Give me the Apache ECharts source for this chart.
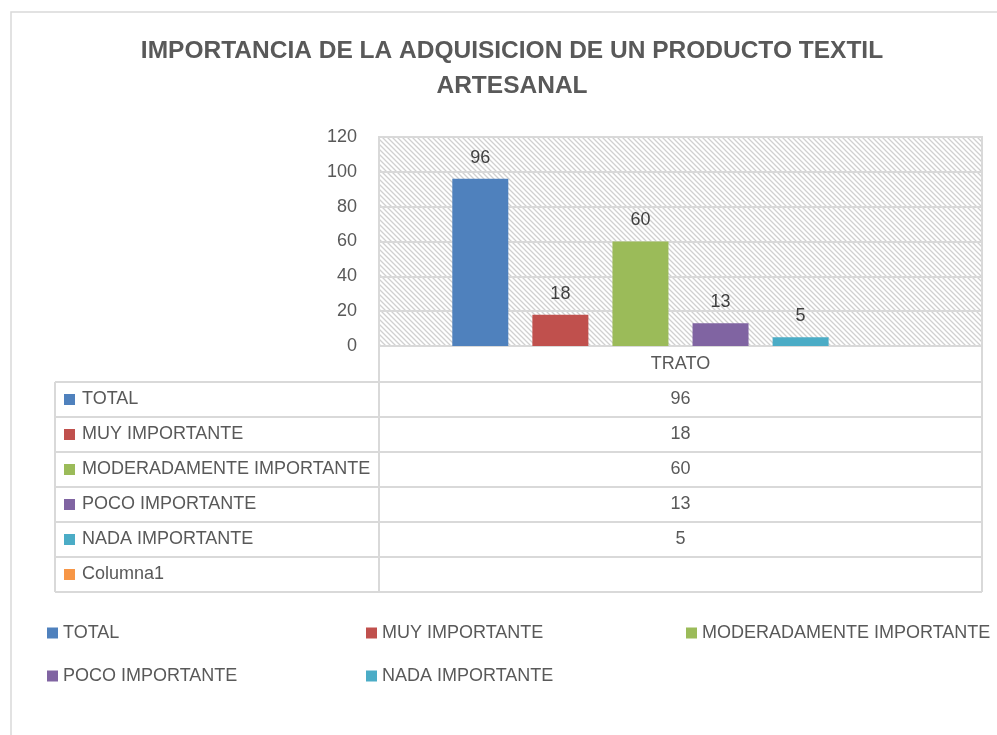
<!DOCTYPE html>
<html>
<head>
<meta charset="utf-8">
<script src="https://cdn.jsdelivr.net/npm/echarts@6/dist/echarts.min.js"></script>
<style>
  html, body { margin: 0; padding: 0; background: #fff; }
  #chart { width: 997px; height: 735px; }
</style>
</head>
<body>
<div id="chart"></div>
<script>
// datos del grafico
const categories = ['TRATO'];
const seriesNames = ['TOTAL', 'MUY IMPORTANTE', 'MODERADAMENTE IMPORTANTE', 'POCO IMPORTANTE', 'NADA IMPORTANTE', 'Columna1'];
const seriesValues = [96, 18, 60, 13, 5, null];
const seriesColors = ['#4F81BD', '#C0504D', '#9BBB59', '#8064A2', '#4BACC6', '#F79646'];
const yMin = 0, yMax = 120, yStep = 20;

// layout
const gridL = 379, gridR = 982, gridT = 137, gridB = 346;
const rowH = 35, tableL = 55;
const lineCol = '#d9d9d9';
const textCol = '#595959';
const font = 'Liberation Sans';

// fondo rayado del area de trazado
function hatch() {
  const s = 5;
  const c = document.createElement('canvas');
  c.width = s; c.height = s;
  const ctx = c.getContext('2d');
  ctx.strokeStyle = '#d0d0d0';
  ctx.lineWidth = 1.3;
  ctx.beginPath();
  ctx.moveTo(-1, -1); ctx.lineTo(s + 1, s + 1);
  ctx.moveTo(-1, s - 1); ctx.lineTo(1, s + 1);
  ctx.moveTo(s - 1, -1); ctx.lineTo(s + 1, 1);
  ctx.stroke();
  return c;
}

const series = seriesNames.map((name, i) => ({
  name: name,
  type: 'bar',
  barWidth: 56,
  barGap: '43%',
  itemStyle: { color: seriesColors[i] },
  label: { show: true, position: 'top', distance: 12, fontSize: 18, color: '#404040', fontFamily: font },
  data: [seriesValues[i]]
}));

// tabla de datos
const graphic = [];
const tableTop = gridB + rowH + 1;
const tableBottom = tableTop + rowH * seriesNames.length;
const midX = (gridL + gridR) / 2;
// borde exterior del grafico
graphic.push({ type: 'rect', shape: { x: 11, y: 12, width: 1000, height: 740 }, style: { fill: null, stroke: lineCol, lineWidth: 1.5 }, silent: true });
// verticales
[[gridL, gridB, tableBottom], [gridR, gridB, tableBottom], [tableL, tableTop, tableBottom]].forEach(v => {
  graphic.push({ type: 'line', shape: { x1: v[0], y1: v[1], x2: v[0], y2: v[2] }, style: { stroke: lineCol, lineWidth: 2 }, silent: true });
});
for (let r = 0; r <= seriesNames.length; r++) {
  const y = tableTop + r * rowH;
  graphic.push({ type: 'line', shape: { x1: tableL, y1: y, x2: gridR, y2: y }, style: { stroke: lineCol, lineWidth: 2 }, silent: true });
}
seriesNames.forEach((name, i) => {
  const cy = tableTop + i * rowH + rowH / 2;
  graphic.push({ type: 'rect', shape: { x: 64, y: cy - 5.5, width: 11, height: 11 }, style: { fill: seriesColors[i] }, silent: true });
  graphic.push({ type: 'text', x: 82, y: cy, style: { text: name, fontSize: 18, fontFamily: font, fill: textCol, verticalAlign: 'middle' }, silent: true });
  if (seriesValues[i] != null) {
    graphic.push({ type: 'text', x: midX, y: cy, style: { text: String(seriesValues[i]), fontSize: 18, fontFamily: font, fill: textCol, align: 'center', verticalAlign: 'middle' }, silent: true });
  }
});

const legendBase = {
  orient: 'vertical', top: 619, itemWidth: 11, itemHeight: 11, itemGap: 25, itemTextGap: 5,
  icon: 'rect', selectedMode: false,
  textStyle: { fontSize: 18, color: textCol, fontFamily: font }
};

const chart = echarts.init(document.getElementById('chart'));
chart.setOption({
  backgroundColor: '#fff',
  animation: false,
  textStyle: { fontFamily: font },
  title: {
    text: 'IMPORTANCIA DE LA ADQUISICION DE UN PRODUCTO TEXTIL\nARTESANAL',
    left: 507, top: 29, textAlign: 'center',
    textStyle: { fontSize: 24.5, fontWeight: 'bold', color: textCol, lineHeight: 35, fontFamily: font }
  },
  legend: [
    Object.assign({ left: 42, data: [seriesNames[0], seriesNames[3]] }, legendBase),
    Object.assign({ left: 361, data: [seriesNames[1], seriesNames[4]] }, legendBase),
    Object.assign({ left: 681, data: [seriesNames[2]] }, legendBase)
  ],
  grid: {
    left: gridL, right: 997 - gridR, top: gridT, bottom: 735 - gridB,
    show: true, borderColor: lineCol, borderWidth: 2,
    backgroundColor: { image: hatch(), repeat: 'repeat' }
  },
  xAxis: {
    type: 'category', data: categories,
    axisLine: { show: false }, axisTick: { show: false },
    axisLabel: { fontSize: 18, color: textCol, margin: 9 }
  },
  yAxis: {
    type: 'value', min: yMin, max: yMax, interval: yStep,
    axisLine: { show: false }, axisTick: { show: false },
    axisLabel: { fontSize: 18, color: textCol, margin: 22 },
    splitLine: { lineStyle: { color: lineCol, width: 2 } }
  },
  graphic: graphic,
  series: series
});
</script>
</body>
</html>
